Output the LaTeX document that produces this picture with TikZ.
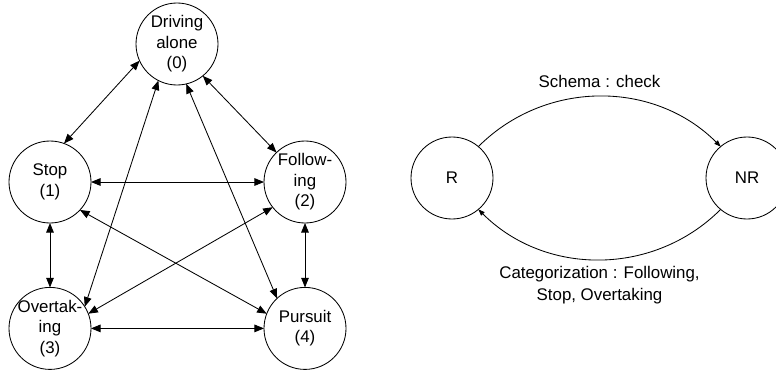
\documentclass[tikz,border=0pt]{standalone}
\usepackage{fontspec}
\setmainfont{Liberation Sans}
\usetikzlibrary{arrows.meta,positioning}

\tikzset{
	state/.style={draw, circle, minimum size=2.05cm, inner sep=-4pt, outer sep=0pt,
		align=center, font=\fontsize{12}{14.5}\selectfont},
	lbl/.style={align=center, font=\fontsize{12}{15.5}\selectfont},
	small tip/.style={-{Triangle[length=1.6mm,width=1.2mm]}},
}

\begin{document}
\begin{tikzpicture}[line width=0.6pt, >={Triangle[length=2.4mm,width=1.9mm]}]

	\useasboundingbox (0,0) rectangle (19.4,-9.325);

            \node[state] (drv) at (4.425,-1.1) {Driving\\alone\\(0)};
            \node[state] (stop) at (1.25,-4.55) {Stop\\(1)};
            \node[state] (fol) at (7.625,-4.55) {Follow-\\ing\\(2)};
            \node[state] (ovt) at (1.25,-8.21) {Overtak-\\ing\\(3)};
            \node[state] (pur) at (7.625,-8.21) {Pursuit\\(4)};

            \foreach \from/\to in {drv.204/stop.70, drv.309/fol.134, drv.243/ovt.32,
              drv.283/pur.133, stop/fol, stop.317/pur.159, fol.218/ovt.21,
              stop/ovt, fol/pur, ovt/pur}{
              \draw[<->] (\from) -- (\to);
            }

            \node[state] (r) at (11.3,-4.45) {R};
            \node[state] (nr) at (18.675,-4.45) {NR};

            \draw[small tip] (r.50) to[bend left=45]
              node[lbl, midway, above=1mm] (schema) {Schema : check} (nr.130);
            \draw[small tip] (nr.230) to[bend left=45]
              node[lbl, midway, below=0.5mm] (categ) {Categorization : Following,\\Stop, Overtaking} (r.310);

        \end{tikzpicture}
\end{document}
